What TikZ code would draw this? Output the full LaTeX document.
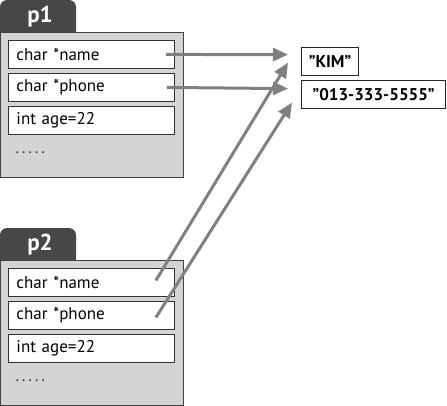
\documentclass[tikz,border=0pt]{standalone}
\usepackage{fontspec}
\setmainfont{PT Sans}
\usetikzlibrary{arrows.meta}
\colorlet{tabcol}{black!72}
\colorlet{boxcol}{black!17}
\colorlet{ptrcol}{black!50}

\begin{document}
\begin{tikzpicture}[x=1pt, y=-1pt, font=\fontsize{17}{20}\selectfont,
	    field/.style={draw=black!80, fill=white, line width=0.9pt, anchor=north west,
	        text width=150pt, inner xsep=8pt, minimum height=28pt, align=left},
	    strbox/.style={draw=black!85, fill=white, line width=1.2pt, anchor=north west,
	        minimum height=28pt, inner xsep=4pt, font=\fontsize{17}{20}\selectfont\bfseries},
	    ptr/.style={draw=ptrcol, line width=3pt, -{Triangle[length=15pt,width=13pt]}}]
	    \useasboundingbox (0,0) rectangle (447,405);

		\foreach \i/\y in {1/0, 2/228} {
			% tab and body of struct p\i
			\fill[tabcol] (0,\y+34) [rounded corners=7pt] -- (0,\y) -- (76,\y) [sharp corners] -- (76,\y+34) -- cycle;
			\node[text=white, font=\fontsize{23}{25}\selectfont\bfseries] (p\i) at (40,\y+17) {p\i};
			\draw[fill=boxcol, draw=black!75, line width=0.9pt] (0,\y+32) rectangle (183,\y+177);
			\node[field] (p\i name) at (8,\y+40) {char *name};
			\node[field] (p\i phone) at (8,\y+73) {char *phone};
			\node[field] (p\i age) at (8,\y+106) {int age=22};
			\node[anchor=west, text=black!75] (p\i dots) at (12,\y+153) {.\,.\,.\,.\,.};
		}

		\node[strbox, minimum width=57pt] (kim) at (301,47) {"KIM"};
		\node[strbox, minimum width=144pt] (tel) at (301,80) {"013-333-5555"};

		\draw[ptr] ([xshift=-9pt]p1name.east) -- ([xshift=-13pt,yshift=7pt]kim.west);
		\draw[ptr] ([xshift=-8pt]p1phone.east) -- ([xshift=-13pt,yshift=6pt]tel.west);
		\draw[ptr] ([xshift=-19pt,yshift=2pt]p2name.east) -- ([xshift=-13pt,yshift=-1pt]kim.west);
		\draw[ptr] ([xshift=-19pt,yshift=-2pt]p2phone.east) -- ([xshift=-9pt,yshift=-8pt]tel.west);
	  \end{tikzpicture}
\end{document}
